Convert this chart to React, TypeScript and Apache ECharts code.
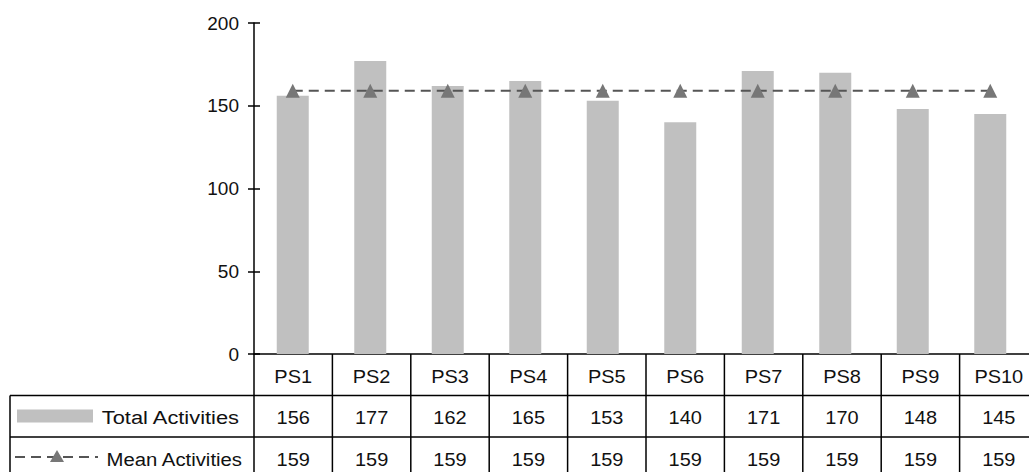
import React, { useEffect, useRef } from "react";
import * as echarts from "echarts";

const categories = ["PS1", "PS2", "PS3", "PS4", "PS5", "PS6", "PS7", "PS8", "PS9", "PS10"];
const totalActivities = [156, 177, 162, 165, 153, 140, 171, 170, 148, 145];
const meanActivities = [159, 159, 159, 159, 159, 159, 159, 159, 159, 159];
const seriesNames = ["Total Activities", "Mean Activities"];

const FONT = "'Liberation Sans', Arial, sans-serif";
const FS = 19;

const GRID_LEFT = 254;
const GRID_TOP = 23;
const GRID_W = 784;
const GRID_BOTTOM_Y = 354;
const ROW_H = 41.5;
const TABLE_LEFT = 10;

export default function App() {
  const ref = useRef<HTMLDivElement>(null);

  useEffect(() => {
    if (!ref.current) return;
    const chart = echarts.init(ref.current, null, { renderer: "svg" });
    const n = categories.length;
    const colW = GRID_W / n;
    const right = GRID_LEFT + GRID_W;
    const r1 = GRID_BOTTOM_Y + ROW_H;
    const r2 = r1 + ROW_H;
    const r3 = r2 + ROW_H;

    const lineStyle = { stroke: "#000", lineWidth: 1.5 };
    const graphics: any[] = [];
    graphics.push({ type: "line", shape: { x1: TABLE_LEFT, y1: r1, x2: right, y2: r1 }, style: lineStyle });
    graphics.push({ type: "line", shape: { x1: TABLE_LEFT, y1: r2, x2: right, y2: r2 }, style: lineStyle });
    graphics.push({ type: "line", shape: { x1: TABLE_LEFT, y1: r1, x2: TABLE_LEFT, y2: r3 }, style: lineStyle });
    for (let i = 0; i <= n; i++) {
      const x = GRID_LEFT + i * colW;
      graphics.push({ type: "line", shape: { x1: x, y1: GRID_BOTTOM_Y, x2: x, y2: r3 }, style: lineStyle });
    }
    const textStyle = (x: number, y: number, t: string, align = "center", scaleX = 1.05) => ({
      type: "text",
      x,
      y,
      scaleX,
      style: { text: t, fill: "#111", font: `${FS}px ${FONT}`, align, verticalAlign: "middle" },
    });
    categories.forEach((c, i) => {
      const cx = GRID_LEFT + (i + 0.5) * colW;
      graphics.push(textStyle(cx, GRID_BOTTOM_Y + ROW_H / 2 + 1, c));
      graphics.push(textStyle(cx, r1 + ROW_H / 2 + 1, String(totalActivities[i])));
      graphics.push(textStyle(cx, r2 + ROW_H / 2 + 1, String(meanActivities[i])));
    });
    graphics.push(textStyle(239, r1 + ROW_H / 2 + 1, seriesNames[0], "right", 1.15));
    graphics.push(textStyle(242, r2 + ROW_H / 2 + 1, seriesNames[1], "right", 1.07));
    graphics.push({ type: "rect", shape: { x: 17, y: r1 + 14, width: 76, height: 13 }, style: { fill: "#c0c0c0" } });
    graphics.push({
      type: "line",
      shape: { x1: 15, y1: r2 + 20, x2: 98, y2: r2 + 20 },
      style: { stroke: "#555", lineWidth: 2, lineDash: [10, 6] },
    });
    graphics.push({
      type: "polygon",
      shape: { points: [[57, r2 + 13], [50, r2 + 25], [64, r2 + 25]] },
      style: { fill: "#777" },
    });

    chart.setOption({
      animation: false,
      grid: { left: GRID_LEFT, top: GRID_TOP, width: GRID_W, bottom: 472 - GRID_BOTTOM_Y },
      xAxis: {
        type: "category",
        data: categories,
        axisLine: { lineStyle: { color: "#000", width: 1.5 } },
        axisTick: { show: false },
        axisLabel: { show: false },
      },
      yAxis: [
        {
          type: "value",
          min: 0,
          max: 200,
          interval: 50,
          axisLine: { show: true, lineStyle: { color: "#000", width: 1.5 } },
          axisTick: { show: true, length: 6, lineStyle: { color: "#000", width: 1.5 } },
          axisLabel: { color: "#111", fontFamily: FONT, fontSize: FS, margin: 15 },
          splitLine: { show: false },
        },
        {
          type: "value",
          position: "left",
          min: 0,
          max: 200,
          interval: 50,
          axisLine: { show: false },
          axisTick: { show: true, inside: true, length: 6, lineStyle: { color: "#000", width: 1.5 } },
          axisLabel: { show: false },
          splitLine: { show: false },
        },
      ],
      series: [
        {
          name: seriesNames[0],
          type: "bar",
          data: totalActivities,
          barWidth: 32,
          itemStyle: { color: "#c0c0c0" },
        },
        {
          name: seriesNames[1],
          type: "line",
          data: meanActivities,
          symbol: "triangle",
          symbolSize: 14,
          itemStyle: { color: "#777" },
          lineStyle: { color: "#555", width: 2, type: [10, 6] },
          z: 3,
        },
      ],
      graphic: graphics,
    });
    return () => chart.dispose();
  }, []);

  return <div ref={ref} style={{ position: "absolute", left: 0, top: 0, width: 1029, height: 472, background: "#fff" }} />;
}
